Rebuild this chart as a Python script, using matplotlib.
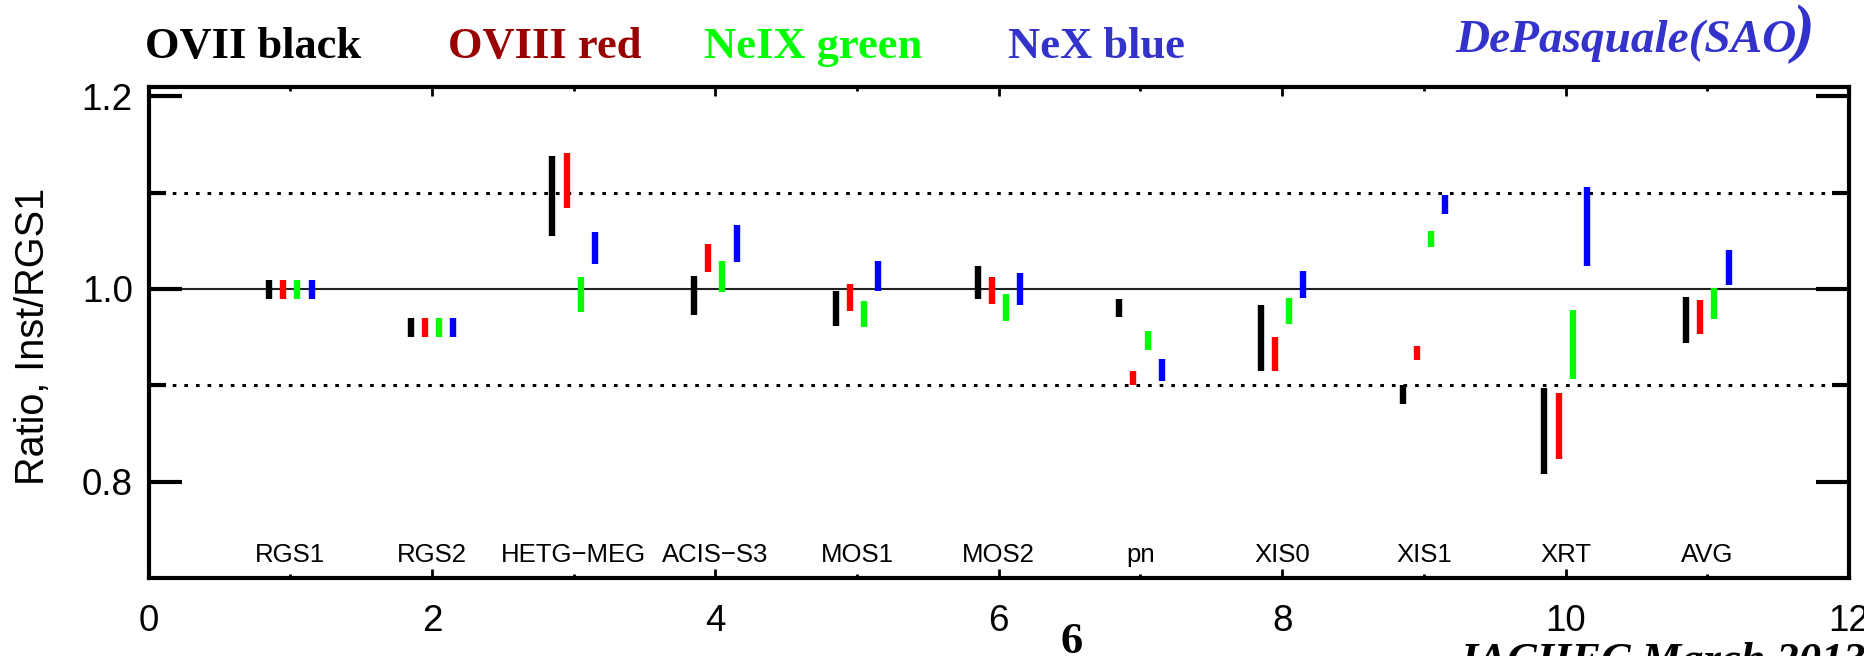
import matplotlib
matplotlib.use("Agg")
import matplotlib.pyplot as plt
from matplotlib.ticker import FixedLocator

# ---------------- data ----------------
instruments = ["RGS1", "RGS2", "HETG\u2212MEG", "ACIS\u2212S3", "MOS1", "MOS2",
               "pn", "XIS0", "XIS1", "XRT", "AVG"]
positions = [1, 2, 3, 4, 5, 6, 7, 8, 9, 10, 11]

ovii_lo = [0.990, 0.950, 1.055, 0.973, 0.961, 0.990, 0.971, 0.915, 0.881, 0.808, 0.944]
ovii_hi = [1.009, 0.970, 1.138, 1.013, 0.998, 1.024, 0.989, 0.983, 0.900, 0.897, 0.992]

oviii_lo = [0.990, 0.950, 1.084, 1.017, 0.977, 0.984, 0.900, 0.915, 0.926, 0.823, 0.953]
oviii_hi = [1.009, 0.970, 1.141, 1.047, 1.005, 1.012, 0.915, 0.950, 0.941, 0.892, 0.988]

neix_lo = [0.990, 0.950, 0.976, 0.997, 0.960, 0.967, 0.937, 0.964, 1.043, 0.906, 0.969]
neix_hi = [1.009, 0.970, 1.012, 1.029, 0.987, 0.995, 0.956, 0.991, 1.060, 0.978, 1.001]

nex_lo = [0.990, 0.950, 1.026, 1.028, 0.998, 0.983, 0.904, 0.991, 1.078, 1.024, 1.004]
nex_hi = [1.009, 0.970, 1.059, 1.066, 1.029, 1.016, 0.927, 1.019, 1.097, 1.106, 1.040]

series = [
    (ovii_lo, ovii_hi, "#000000", -0.15),
    (oviii_lo, oviii_hi, "#ff0000", -0.05),
    (neix_lo, neix_hi, "#00ff00", 0.05),
    (nex_lo, nex_hi, "#0000ff", 0.15),
]

header = [("OVII black", "#000000", 145), ("OVIII red", "#990000", 448),
          ("NeIX green", "#00ff00", 704), ("NeX blue", "#3333cc", 1008)]

W, H = 1864, 656
fig = plt.figure(figsize=(W / 100, H / 100), dpi=100)
ax = fig.add_axes([148.6 / W, 78 / H, (1849 - 148.6) / W, (578 - 86.5) / H])

ax.set_xlim(0, 12)
ax.set_ylim(0.70, 1.21)

# reference lines
ax.axhline(1.0, color="#222222", lw=1.5, zorder=1)
for yv in (0.9, 1.1):
    ax.plot([0, 12], [yv, yv], color="black", lw=2.2,
            linestyle=(0, (1.2, 2.6)), dash_capstyle="butt", zorder=1)

# bars
for lo, hi, col, off in series:
    xs = [p + off for p in positions]
    ax.vlines(xs, lo, hi, colors=col, lw=4.6, zorder=3, capstyle="butt")

# instrument labels
for p, name in zip(positions, instruments):
    ax.text(p, 0.717, name, ha="center", va="baseline", fontsize=18.5,
            family="Liberation Sans")

# axes styling
for s in ax.spines.values():
    s.set_linewidth(3.0)

ax.xaxis.set_major_locator(FixedLocator([0, 2, 4, 6, 8, 10, 12]))
ax.xaxis.set_minor_locator(FixedLocator([1, 3, 5, 7, 9, 11]))
ax.yaxis.set_major_locator(FixedLocator([0.8, 1.0, 1.2]))
ax.yaxis.set_minor_locator(FixedLocator([0.9, 1.1]))
ax.set_xticklabels(["0", "2", "4", "6", "8", "10", "12"])
ax.set_yticklabels(["0.8", "1.0", "1.2"])

ax.tick_params(axis="x", which="major", direction="in", length=6.5, width=2,
               top=True, bottom=True, labelsize=26.5, pad=19)
ax.tick_params(axis="x", which="minor", direction="in", length=3, width=2,
               top=True, bottom=True)
ax.tick_params(axis="y", which="major", direction="in", length=24, width=3,
               left=True, right=True, labelsize=26.5, pad=11.5)
ax.tick_params(axis="y", which="minor", direction="in", length=12, width=3,
               left=True, right=True)
for lab in ax.get_xticklabels() + ax.get_yticklabels():
    lab.set_family("Liberation Sans")

fig.text(33 / W, 1 - 336 / H, "Ratio, Inst/RGS1", rotation=90, ha="center",
         va="center", fontsize=28.5, family="Liberation Sans")

# header texts
for txt, col, x0 in header:
    fig.text(x0 / W, 1 - 58 / H, txt, color=col, fontsize=32, weight="bold",
             family="Liberation Serif", ha="left", va="baseline")
fig.text(1455 / W, 1 - 52 / H, "DePasquale(SAO", color="#3333cc", fontsize=34,
         weight="bold", style="italic", family="Liberation Serif",
         ha="left", va="baseline")
fig.text(1793 / W, 1 - 50 / H, ")", color="#3333cc", fontsize=47,
         weight="bold", style="italic", family="Liberation Serif",
         ha="left", va="baseline")

# footer texts
fig.text(1060 / W, 1 - 653 / H, "6", fontsize=32, weight="bold",
         family="Liberation Serif", ha="left", va="baseline")
fig.text(1460 / W, 1 - 673 / H, "IACHEC March 2013", fontsize=32, weight="bold",
         style="italic", family="Liberation Serif", ha="left", va="baseline")

fig.savefig("out.png", dpi=100)
